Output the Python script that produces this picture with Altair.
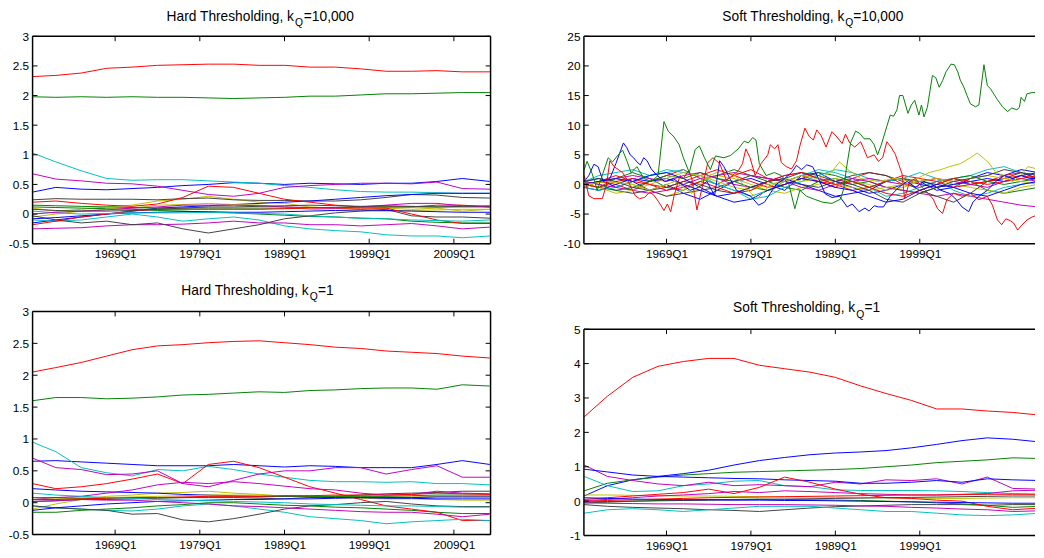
import altair as alt
import pandas as pd

BLUE = "#0000ff"; GREEN = "#008000"; RED = "#ff0000"; CYAN = "#00bfbf"
MAGENTA = "#bf00bf"; YELLOW = "#bfbf00"; GRAY = "#404040"
FONT = "Liberation Sans"

# ---------------- time grids (decimal years) ----------------
grid3 = [1959.25, 1962, 1965, 1968, 1971, 1974, 1977, 1980, 1983, 1986,
         1989, 1992, 1995, 1998, 2001, 2004, 2007, 2010, 2013.25]
grid2 = [1959.25, 1961, 1963, 1965, 1967, 1969, 1971, 1973, 1975, 1977,
         1979, 1981, 1983, 1985, 1987, 1989, 1991, 1993, 1995, 1997,
         1999, 2001, 2003, 2005, 2007, 2009, 2011, 2013]

# ---------------- Hard Thresholding, kQ = 10,000 ----------------
tl_red_top = [2.32, 2.34, 2.38, 2.46, 2.48, 2.51, 2.52, 2.53, 2.53, 2.51, 2.51, 2.48, 2.48, 2.45, 2.41, 2.41, 2.42, 2.40, 2.40]
tl_green_top = [1.98, 1.97, 1.98, 1.97, 1.98, 1.97, 1.97, 1.96, 1.95, 1.96, 1.97, 1.99, 1.99, 2.01, 2.03, 2.03, 2.04, 2.05, 2.05]
tl_cyan_top = [1.03, 0.88, 0.73, 0.60, 0.57, 0.58, 0.58, 0.56, 0.54, 0.52, 0.48, 0.45, 0.41, 0.38, 0.37, 0.37, 0.36, 0.35, 0.35]
tl_mag_top = [0.68, 0.59, 0.56, 0.52, 0.51, 0.47, 0.40, 0.33, 0.30, 0.35, 0.45, 0.48, 0.50, 0.52, 0.52, 0.51, 0.54, 0.43, 0.42]
tl_blue_top = [0.37, 0.45, 0.42, 0.41, 0.43, 0.45, 0.48, 0.50, 0.53, 0.52, 0.50, 0.52, 0.51, 0.50, 0.52, 0.52, 0.55, 0.60, 0.55]
tl_red_hump = [0.20, 0.22, 0.18, 0.15, 0.13, 0.17, 0.28, 0.47, 0.45, 0.35, 0.25, 0.20, 0.15, 0.12, 0.12, 0.12, 0.15, 0.15, 0.12]
tl_red_low = [-0.18, -0.12, -0.05, 0.00, 0.05, 0.08, 0.08, 0.08, 0.08, 0.08, 0.09, 0.10, 0.10, 0.10, 0.10, 0.00, -0.10, -0.16, -0.16]
tl_gray_up = [0.24, 0.26, 0.25, 0.25, 0.25, 0.24, 0.26, 0.27, 0.24, 0.23, 0.23, 0.22, 0.22, 0.24, 0.28, 0.33, 0.32, 0.28, 0.27]
tl_gray_low = [-0.03, -0.10, -0.15, -0.12, -0.18, -0.15, -0.25, -0.32, -0.25, -0.18, -0.08, -0.03, 0.02, 0.05, 0.08, -0.03, -0.05, -0.05, -0.07]
tl_yellow1 = [0.10, 0.05, 0.08, 0.12, 0.15, 0.22, 0.25, 0.30, 0.25, 0.20, 0.18, 0.12, 0.10, 0.08, 0.10, 0.08, 0.10, 0.05, 0.08]
tl_yellow2 = [-0.05, 0.00, 0.05, 0.08, 0.10, 0.15, 0.16, 0.18, 0.16, 0.15, 0.12, 0.08, 0.06, 0.05, 0.05, 0.06, 0.07, 0.08, 0.08]
tl_cyan_low = [-0.10, -0.12, -0.10, -0.05, 0.00, -0.05, -0.12, -0.08, -0.05, -0.10, -0.20, -0.25, -0.28, -0.30, -0.35, -0.37, -0.37, -0.40, -0.37]
tl_cyan_mid = [0.05, 0.02, 0.00, 0.01, 0.02, 0.02, 0.02, 0.03, 0.02, 0.01, 0.00, -0.03, -0.05, -0.07, -0.08, -0.10, -0.11, -0.12, -0.10]
tl_mag_low = [-0.25, -0.24, -0.23, -0.20, -0.18, -0.18, -0.17, -0.15, -0.12, -0.15, -0.15, -0.18, -0.18, -0.20, -0.18, -0.16, -0.20, -0.25, -0.22]
tl_mag_mid = [0.00, 0.03, 0.05, 0.07, 0.10, 0.12, 0.15, 0.15, 0.15, 0.14, 0.12, 0.11, 0.10, 0.12, 0.15, 0.18, 0.18, 0.14, 0.12]
tl_green_low = [0.12, 0.11, 0.10, 0.09, 0.08, 0.06, 0.05, 0.03, 0.02, 0.00, -0.02, -0.04, -0.05, -0.07, -0.08, -0.12, -0.14, -0.15, -0.15]
tl_green_mid = [0.15, 0.14, 0.13, 0.12, 0.11, 0.10, 0.10, 0.10, 0.10, 0.10, 0.10, 0.11, 0.11, 0.12, 0.12, 0.12, 0.12, 0.12, 0.12]
tl_blue_rise = [-0.15, -0.10, -0.05, 0.00, 0.05, 0.10, 0.12, 0.14, 0.16, 0.18, 0.20, 0.22, 0.25, 0.28, 0.31, 0.33, 0.35, 0.35, 0.35]
tl_blue_flat = [-0.08, -0.06, -0.03, 0.00, 0.02, 0.03, 0.04, 0.04, 0.03, 0.03, 0.04, 0.05, 0.06, 0.07, 0.06, 0.05, 0.04, 0.03, 0.03]
tl_gray_mid = [0.08, 0.06, 0.05, 0.05, 0.06, 0.08, 0.10, 0.12, 0.12, 0.13, 0.14, 0.15, 0.14, 0.13, 0.14, 0.13, 0.12, 0.13, 0.14]

# ---------------- Hard Thresholding, kQ = 1 ----------------
bl_red_top = [2.05, 2.12, 2.20, 2.30, 2.40, 2.46, 2.48, 2.51, 2.53, 2.54, 2.51, 2.48, 2.44, 2.42, 2.38, 2.36, 2.34, 2.30, 2.27]
bl_green_top = [1.60, 1.65, 1.65, 1.63, 1.64, 1.66, 1.69, 1.70, 1.72, 1.74, 1.73, 1.76, 1.77, 1.79, 1.80, 1.80, 1.78, 1.85, 1.83]
bl_cyan_top = [0.95, 0.80, 0.55, 0.47, 0.42, 0.52, 0.50, 0.57, 0.52, 0.45, 0.40, 0.35, 0.33, 0.33, 0.32, 0.33, 0.30, 0.30, 0.28]
bl_blue_top = [0.65, 0.66, 0.64, 0.62, 0.60, 0.58, 0.58, 0.58, 0.60, 0.58, 0.56, 0.58, 0.57, 0.55, 0.55, 0.55, 0.60, 0.66, 0.60]
bl_mag_a = [0.70, 0.55, 0.52, 0.44, 0.45, 0.50, 0.30, 0.25, 0.35, 0.45, 0.50, 0.50, 0.55, 0.55, 0.45, 0.52, 0.58, 0.40, 0.40]
bl_mag_b = [0.05, 0.08, 0.10, 0.15, 0.20, 0.28, 0.32, 0.30, 0.33, 0.30, 0.26, 0.22, 0.20, 0.15, 0.12, 0.13, 0.18, 0.15, 0.14]
bl_mag_c = [0.02, 0.03, 0.05, 0.04, 0.04, 0.02, 0.00, -0.02, -0.05, -0.06, -0.08, -0.10, -0.12, -0.14, -0.15, -0.15, -0.18, -0.22, -0.18]
bl_red_hump = [0.30, 0.22, 0.25, 0.30, 0.37, 0.45, 0.30, 0.60, 0.65, 0.55, 0.40, 0.25, 0.15, 0.05, -0.05, -0.10, -0.15, -0.28, -0.28]
bl_red_flat = [0.05, 0.05, 0.06, 0.07, 0.08, 0.08, 0.09, 0.10, 0.10, 0.10, 0.11, 0.11, 0.12, 0.12, 0.12, 0.13, 0.15, 0.14, 0.13]
bl_blue_mid = [0.22, 0.20, 0.18, 0.17, 0.16, 0.15, 0.13, 0.12, 0.11, 0.10, 0.10, 0.09, 0.08, 0.08, 0.07, 0.07, 0.06, 0.06, 0.06]
bl_cyan_mid = [0.15, 0.12, 0.10, 0.08, 0.07, 0.05, 0.04, 0.03, 0.02, 0.01, 0.00, -0.02, -0.03, -0.04, -0.05, -0.05, -0.06, -0.07, -0.07]
bl_cyan_low = [-0.05, -0.08, -0.10, -0.12, -0.13, -0.10, -0.05, -0.02, -0.05, -0.10, -0.15, -0.22, -0.25, -0.28, -0.33, -0.30, -0.28, -0.26, -0.28]
bl_gray_low = [-0.05, -0.08, -0.10, -0.12, -0.18, -0.17, -0.27, -0.30, -0.25, -0.18, -0.10, -0.05, -0.03, 0.00, 0.02, -0.02, -0.05, -0.06, -0.06]
bl_gray_up = [0.02, 0.03, 0.05, 0.05, 0.06, 0.07, 0.08, 0.08, 0.08, 0.07, 0.06, 0.08, 0.10, 0.12, 0.14, 0.15, 0.16, 0.18, 0.18]
bl_yellow1 = [-0.10, -0.02, 0.05, 0.10, 0.12, 0.15, 0.16, 0.18, 0.15, 0.13, 0.10, 0.10, 0.08, 0.07, 0.06, 0.06, 0.05, 0.04, 0.04]
bl_yellow2 = [0.05, 0.06, 0.07, 0.08, 0.09, 0.10, 0.11, 0.12, 0.12, 0.12, 0.11, 0.10, 0.10, 0.09, 0.09, 0.09, 0.10, 0.10, 0.10]
bl_green_low = [-0.15, -0.15, -0.12, -0.10, -0.08, -0.05, -0.03, 0.00, 0.00, -0.02, -0.04, -0.05, -0.07, -0.08, -0.10, -0.12, -0.15, -0.17, -0.17]
bl_green_mid = [0.08, 0.08, 0.07, 0.07, 0.08, 0.08, 0.08, 0.09, 0.09, 0.09, 0.10, 0.10, 0.10, 0.10, 0.10, 0.11, 0.12, 0.12, 0.12]
bl_blue_low = [-0.12, -0.08, -0.05, -0.02, 0.00, 0.02, 0.03, 0.04, 0.05, 0.05, 0.06, 0.06, 0.07, 0.08, 0.08, 0.08, 0.09, 0.09, 0.09]

# ---------------- Soft Thresholding, kQ = 10,000 ----------------
tr_green_years = [1959.25, 1959.6, 1960.2, 1960.8, 1961.5, 1962.1, 1962.6, 1963.3, 1963.8, 1964.3, 1964.8, 1965.5, 1966.3, 1967.2, 1968.0,
                  1968.7, 1969.2, 1969.9, 1970.5, 1971.0, 1971.7, 1972.4, 1972.9, 1973.5, 1974.2, 1974.8, 1975.8, 1976.6, 1977.5, 1978.2,
                  1978.7, 1979.2, 1979.6, 1980.0, 1980.8, 1981.8, 1982.6, 1983.5, 1984.2, 1984.8, 1985.6, 1986.5, 1987.5, 1988.6, 1989.6,
                  1990.0, 1990.3, 1990.8, 1991.4, 1991.9, 1992.4, 1993.1, 1993.6, 1994.0, 1994.4, 1995.1, 1995.5, 1995.9, 1996.3, 1996.6,
                  1997.0, 1997.6, 1998.0, 1998.4, 1998.9, 1999.2, 1999.5, 1999.9, 2000.5, 2000.9, 2001.3, 2001.7, 2002.1, 2002.7, 2003.1,
                  2003.5, 2003.8, 2004.2, 2004.6, 2005.0, 2005.6, 2006.0, 2006.6, 2007.0, 2007.4, 2007.8, 2008.2, 2008.8, 2009.4, 2009.9,
                  2010.5, 2010.8, 2011.0, 2011.4, 2011.7, 2012.3, 2013.25]
tr_green_vals = [2.5, 3.9, 1.8, -1.0, 2.0, 4.5, 3.8, 5.0, 5.8, 4.0, 2.0, 3.0, 1.0, 0.5, 1.5,
                 10.6, 9.0, 8.0, 6.7, 4.5, 2.0, 5.9, 6.5, 4.5, 2.5, 4.8, 4.5, 4.9, 6.0, 7.3,
                 7.0, 7.9, 7.5, 3.5, 1.5, 2.0, 1.5, 0.0, -4.1, -1.0, -2.0, -2.5, -3.0, -3.2, -2.5,
                 -0.7, 2.6, 7.0, 9.0, 8.6, 7.7, 7.7, 6.7, 5.0, 6.5, 9.8, 11.7, 11.5, 12.6, 15.0,
                 15.0, 12.0, 13.4, 14.2, 11.7, 13.4, 11.4, 13.0, 18.4, 18.0, 16.4, 17.5, 19.0, 20.3, 20.2,
                 19.0, 17.6, 16.5, 15.0, 13.6, 13.1, 13.4, 20.2, 16.7, 16.1, 15.2, 14.3, 13.1, 12.3, 12.9,
                 12.6, 13.0, 14.7, 14.0, 15.3, 15.5, 15.5]
tr_red_years = [1959.25, 1959.8, 1960.4, 1961.4, 1961.9, 1962.3, 1962.8, 1963.8, 1964.5, 1965.3, 1965.8, 1966.4, 1967.0, 1967.5, 1968.1,
                1968.7, 1969.1, 1969.5, 1969.9, 1970.6, 1971.0, 1971.6, 1972.0, 1972.6, 1973.0, 1973.9, 1974.5, 1975.3, 1976.1, 1976.8,
                1977.5, 1978.0, 1978.4, 1978.9, 1979.5, 1980.2, 1981.0, 1981.3, 1981.8, 1982.2, 1982.6, 1983.2, 1983.8, 1984.4, 1984.8,
                1985.4, 1985.9, 1986.4, 1986.8, 1987.3, 1987.9, 1988.6, 1989.2, 1989.8, 1990.2, 1990.7, 1991.3, 1992.0, 1992.4, 1992.8,
                1993.6, 1994.1, 1994.6, 1995.1, 1995.6, 1996.1, 1996.5, 1996.9, 1997.2, 1997.8, 1998.5, 1999.3, 2000.0, 2000.6, 2001.1,
                2001.7, 2002.2, 2003.0, 2004.0, 2005.0, 2006.0, 2007.0, 2007.6, 2008.2, 2008.7, 2009.2, 2009.7, 2010.1, 2010.6, 2011.0,
                2011.7, 2012.3, 2013.25]
tr_red_vals = [1.5, -1.9, -2.4, -2.4, 0.0, 4.0, 3.0, 2.0, 0.4, -1.9, -2.4, -2.2, -1.3, -1.8, -3.0,
               -4.4, -3.3, -4.6, -1.9, 1.5, 1.0, 2.3, 1.0, -4.3, -1.9, 3.7, 4.5, 3.5, 0.7, 1.5,
               2.3, 3.5, 6.0, 4.5, 1.5, 3.5, 5.0, 6.7, 6.0, 6.7, 3.7, 3.0, 2.6, 4.0, 6.5,
               9.5, 8.1, 7.5, 9.2, 8.3, 6.3, 8.9, 8.0, 6.9, 8.5, 7.0, 6.3, 7.2, 5.9, 4.5,
               5.0, 3.9, 4.5, 7.2, 6.3, 5.1, 3.4, 1.8, -2.4, 0.5, 1.0, -0.5, -1.5, -2.5, -4.1,
               -4.9, -2.6, -1.5, -2.0, -1.5, -2.6, -2.0, -3.5, -6.0, -6.8, -5.8, -6.1, -6.5, -7.7, -7.0,
               -6.0, -5.5, -5.0]
tr_blue_years = [1959.25, 1959.8, 1960.4, 1960.9, 1961.5, 1962.3, 1963.0, 1963.9, 1964.3, 1964.7, 1965.1, 1965.5, 1965.9, 1966.3, 1966.7,
                 1967.2, 1967.9, 1968.8, 1969.8, 1970.8, 1971.8, 1972.8, 1973.8, 1974.7, 1975.3, 1975.8, 1976.5, 1977.3, 1978.2, 1979.0,
                 1979.9, 1980.6, 1981.3, 1982.0, 1983.0, 1983.8, 1984.4, 1985.0, 1985.6, 1986.3, 1987.0, 1987.8, 1988.6, 1989.5, 1990.4,
                 1991.0, 1991.8, 1992.5, 1993.0, 1993.6, 1994.1, 1994.7, 1995.5, 1996.5, 1997.5, 1998.5, 1999.5, 2000.5, 2001.5, 2002.5,
                 2003.3, 2004.0, 2004.8, 2005.3, 2006.0, 2007.0, 2008.0, 2009.0, 2010.0, 2011.0, 2012.0, 2013.25]
tr_blue_vals = [0.5, 1.5, 3.4, 3.0, 0.5, 1.0, 3.5, 7.0, 6.2, 5.0, 4.5, 3.8, 3.3, 4.5, 4.0,
                2.6, 1.5, 0.5, 1.0, 0.0, -1.0, -0.5, 0.5, -1.9, 4.0, 3.0, 1.0, -1.0, -1.5, -2.0,
                -3.5, -3.0, -1.5, 0.0, 1.0, 2.0, 3.2, 2.5, 3.3, 3.0, 1.0, -1.6, -2.2, -2.0, -3.8,
                -3.3, -4.6, -4.0, -4.5, -3.6, -3.8, -3.8, -2.0, -0.5, 0.5, -0.5, 0.5, 0.0, -1.0, -1.5,
                -2.5, -3.8, -4.6, -3.0, -2.0, -1.0, 0.5, 1.5, 1.0, 1.5, 1.0, 1.0]
tr_yellow_years = [1959.25, 1962, 1965, 1967, 1970, 1972, 1974, 1976, 1977.5, 1979, 1979.8, 1981, 1983, 1985, 1987,
                   1988.5, 1989.5, 1990.5, 1992, 1994, 1996, 1998, 2000.1, 2001.5, 2002.5, 2003.8, 2005, 2005.8, 2006.5, 2007.2,
                   2008, 2009, 2010, 2011, 2011.8, 2013.25]
tr_yellow_vals = [0.0, 0.5, 0.0, -1.0, 0.5, -1.5, 1.5, 2.5, 1.0, -1.5, -2.4, -0.5, 1.0, 0.5, 1.0,
                  2.0, 3.8, 2.5, 1.0, 0.5, 1.0, 0.5, 2.0, 2.5, 3.0, 3.5, 4.5, 5.3, 4.5, 3.6,
                  2.0, 1.5, 0.5, 1.5, 3.0, 2.5]
tr_bg1 = [0.5, 1.0, -0.5, 0.5, -1.0, 0.0, -1.5, -2.5, -1.0, 0.5, 1.0, 0.0, -1.0, 1.5, 2.0, 0.5, -0.5, -1.5, -1.0, 0.0, 0.5, -1.0, -0.5, 1.0, 2.0, 1.5, 2.5, 2.0]
tr_bg2 = [0.0, -0.5, 1.0, 2.0, 1.0, -0.5, -1.0, 0.5, 1.5, 2.5, 1.5, 0.5, -0.5, -1.0, 0.5, 1.0, 0.0, 0.5, -0.5, -1.0, -1.5, -0.5, 0.0, 0.5, -1.0, -1.5, -1.0, -0.5]
tr_bg3 = [-0.5, 0.5, 0.0, -1.0, 0.5, 1.5, 2.5, 1.0, 0.0, 1.5, 2.5, 1.0, 0.5, 1.5, 0.5, -0.5, 1.0, 2.0, 1.5, 0.0, -0.5, 0.5, 1.0, 0.0, 0.5, 1.5, 2.0, 1.0]
tr_bg4 = [0.5, 1.5, 2.0, 2.5, 1.5, 2.0, 2.5, 1.0, 0.0, -1.0, -2.0, -1.0, 0.5, 1.5, 2.5, 2.0, 1.0, -0.5, -2.0, -1.5, -0.5, 0.5, 1.0, 1.5, 2.5, 3.0, 2.0, 1.5]
tr_bg5 = [0.0, 0.5, 1.0, 1.5, 1.0, 0.5, 1.5, 2.0, 1.0, 0.0, -0.5, 0.5, 1.5, 2.0, 1.0, 0.5, 1.0, 0.5, -0.5, -1.0, -1.5, -2.0, -1.5, -2.0, -2.5, -3.0, -3.5, -3.8]
tr_bg6 = [-0.5, 0.5, 1.0, 0.0, -1.0, -2.0, -1.0, 0.5, 1.5, 1.0, 0.0, -1.0, -1.5, -0.5, 0.0, 1.0, 0.5, 0.0, -1.0, -0.5, 0.5, 1.0, 0.0, -0.5, -1.0, -1.5, -0.5, 0.0]
tr_bg7 = [0.0, -0.5, -1.0, -1.5, -1.0, -2.0, -1.5, -1.0, -0.5, 0.5, 1.5, 1.0, 0.5, 0.0, -0.5, 0.5, 1.5, 2.0, 1.5, 0.5, -1.0, -2.0, -3.0, -1.5, 0.5, 1.0, 2.0, 1.5]
tr_bg8 = [-0.5, -1.0, 0.0, 1.0, 0.5, 1.0, 0.0, -1.0, -2.0, -1.5, -0.5, 0.5, 1.0, 0.0, -1.0, -2.0, -1.5, -1.0, 0.5, 1.0, 0.0, -0.5, 0.0, 0.5, 1.0, 0.5, 1.5, 2.0]
tr_bg9 = [0.5, 0.0, -1.0, -0.5, 0.5, 1.5, 1.0, 2.0, 1.0, 0.5, -0.5, -1.0, 0.0, 1.0, 2.0, 1.5, 0.5, -0.5, 0.5, 1.0, 0.5, 0.0, 1.0, 1.5, 0.5, 0.0, 0.5, 1.0]
tr_bg10 = [0.0, 0.5, 1.5, 0.5, 0.0, -0.5, 0.5, 1.5, 2.5, 1.5, 0.5, -0.5, 0.0, 1.0, 0.5, 0.0, -1.0, -0.5, 0.5, 1.5, 1.0, 0.5, -0.5, 0.0, 0.5, 1.0, 1.5, 1.0]
tr_bg11 = [-0.5, -1.0, -0.5, 0.5, 1.5, 2.5, 2.0, 1.5, 0.0, -1.0, -2.5, -2.0, -0.5, 0.5, 1.5, 2.5, 2.0, 1.0, 0.5, 1.0, 2.0, 1.0, -1.0, -2.0, -1.5, -0.5, 0.0, 0.5]
tr_bg12 = [0.5, 0.0, -0.5, -1.0, -1.5, -1.0, 0.0, 1.0, 1.5, 2.0, 1.5, 1.0, 0.5, -0.5, -1.0, 0.0, 0.5, 1.0, 0.5, 0.0, 0.5, 1.0, 0.5, 0.0, -0.5, 0.5, 1.0, 0.5]
tr_bg13 = [0.0, -0.5, -1.5, -1.0, 0.0, 1.0, 2.0, 1.5, 0.5, -0.5, -1.0, 0.0, 0.5, 1.5, 1.0, 0.0, -0.5, -1.0, -0.5, 0.0, 0.5, 1.0, 0.5, 1.0, 1.5, 1.0, 0.5, 0.0]
tr_bg14 = [0.5, 1.0, 0.5, -0.5, -1.0, -0.5, 0.5, 0.0, -1.0, -1.5, -0.5, 0.5, 1.0, 2.0, 1.5, 0.5, 0.0, -1.0, -2.5, -3.0, -1.5, -0.5, 0.5, 1.0, 1.5, 2.5, 2.0, 1.0]
tr_bg15 = [0.0, -0.5, 0.5, 1.0, 0.0, -1.0, -0.5, 0.5, -0.5, -1.5, -1.0, 0.5, 1.5, 2.0, 1.0, 0.0, 0.5, -0.5, -1.5, -2.0, -1.0, 0.0, 1.0, 0.5, 0.0, 0.5, 1.0, 1.5]
tr_bg16 = [0.0, 0.5, 1.0, 0.5, 1.5, 2.0, 1.0, -0.5, -2.0, -3.0, -2.5, -1.0, 0.0, 1.0, 0.5, -0.5, -1.0, -2.0, -3.0, -2.5, -1.0, 0.0, -0.5, -1.5, -2.0, -1.0, 0.0, 0.5]

# ---------------- Soft Thresholding, kQ = 1 ----------------
br_red_top = [2.45, 3.05, 3.60, 3.92, 4.06, 4.15, 4.15, 3.95, 3.85, 3.75, 3.60, 3.35, 3.13, 2.93, 2.68, 2.68, 2.62, 2.58, 2.50]
br_blue_rise = [0.15, 0.45, 0.62, 0.72, 0.80, 0.90, 1.05, 1.18, 1.27, 1.35, 1.40, 1.43, 1.47, 1.55, 1.65, 1.76, 1.84, 1.80, 1.72]
br_green_rise = [0.30, 0.52, 0.62, 0.70, 0.76, 0.80, 0.84, 0.86, 0.88, 0.90, 0.92, 0.95, 1.00, 1.05, 1.12, 1.16, 1.20, 1.26, 1.24]
br_blue_top = [0.93, 0.85, 0.76, 0.72, 0.70, 0.68, 0.66, 0.65, 0.62, 0.60, 0.58, 0.52, 0.52, 0.55, 0.60, 0.55, 0.65, 0.62, 0.60]
br_cyan_top = [0.72, 0.45, 0.28, 0.30, 0.45, 0.50, 0.58, 0.60, 0.45, 0.42, 0.33, 0.31, 0.31, 0.31, 0.30, 0.28, 0.25, 0.22, 0.20]
br_mag_top = [1.05, 0.72, 0.60, 0.50, 0.45, 0.55, 0.45, 0.48, 0.45, 0.42, 0.55, 0.50, 0.62, 0.60, 0.65, 0.50, 0.70, 0.37, 0.35]
br_mag_mid = [0.02, 0.05, 0.10, 0.15, 0.18, 0.22, 0.28, 0.25, 0.30, 0.28, 0.25, 0.22, 0.20, 0.18, 0.18, 0.20, 0.22, 0.30, 0.32]
br_red_hump = [0.05, 0.10, 0.15, 0.20, 0.25, 0.35, 0.22, 0.40, 0.70, 0.55, 0.35, 0.20, 0.10, 0.08, 0.03, 0.00, -0.15, -0.25, -0.20]
br_red_flat = [0.00, 0.02, 0.04, 0.06, 0.08, 0.10, 0.11, 0.12, 0.13, 0.14, 0.15, 0.16, 0.17, 0.18, 0.18, 0.19, 0.20, 0.20, 0.20]
br_yellow = [0.18, 0.18, 0.17, 0.16, 0.15, 0.15, 0.14, 0.13, 0.12, 0.12, 0.11, 0.10, 0.10, 0.09, 0.08, 0.08, 0.09, 0.10, 0.10]
br_gray_low = [-0.10, -0.15, -0.18, -0.20, -0.22, -0.25, -0.27, -0.30, -0.25, -0.20, -0.16, -0.14, -0.12, -0.10, -0.10, -0.10, -0.12, -0.10, -0.10]
br_cyan_low = [-0.35, -0.25, -0.22, -0.25, -0.30, -0.25, -0.20, -0.15, -0.15, -0.15, -0.20, -0.25, -0.30, -0.30, -0.35, -0.40, -0.42, -0.40, -0.35]
br_mag_low = [-0.05, -0.06, -0.07, -0.08, -0.08, -0.09, -0.10, -0.10, -0.10, -0.11, -0.12, -0.14, -0.15, -0.18, -0.20, -0.23, -0.25, -0.30, -0.28]
br_green_low = [-0.05, -0.03, 0.00, 0.02, 0.03, 0.04, 0.05, 0.06, 0.05, 0.04, 0.03, 0.02, 0.00, -0.02, -0.05, -0.08, -0.12, -0.18, -0.15]
br_blue_low = [0.10, 0.08, 0.06, 0.05, 0.04, 0.04, 0.03, 0.03, 0.02, 0.02, 0.01, 0.00, -0.01, -0.02, -0.03, -0.04, -0.05, -0.06, -0.06]
br_gray_mid = [-0.02, -0.01, 0.00, 0.01, 0.02, 0.03, 0.04, 0.05, 0.06, 0.07, 0.08, 0.09, 0.10, 0.11, 0.12, 0.13, 0.14, 0.15, 0.15]

# ---------------- axis ticks ----------------
left_xticks = [1969, 1979, 1989, 1999, 2009]
right_xticks = [1969, 1979, 1989, 1999]
hard_yticks = [-0.5, 0, 0.5, 1, 1.5, 2, 2.5, 3]
soft10k_yticks = [-10, -5, 0, 5, 10, 15, 20, 25]
soft1_yticks = [-1, 0, 1, 2, 3, 4, 5]


def rows(series, dates):
    out = []
    for name, color, vals in series:
        for d, v in zip(dates, vals):
            out.append({"series": name, "year": d, "value": v, "color": color})
    return out


tl_list = [("a", BLUE, tl_blue_top), ("b", GREEN, tl_green_top), ("c", RED, tl_red_top), ("d", CYAN, tl_cyan_top),
           ("e", MAGENTA, tl_mag_top), ("f", YELLOW, tl_yellow1), ("g", GRAY, tl_gray_up), ("h", BLUE, tl_blue_rise),
           ("i", GREEN, tl_green_low), ("j", RED, tl_red_hump), ("k", CYAN, tl_cyan_low), ("l", MAGENTA, tl_mag_low),
           ("m", YELLOW, tl_yellow2), ("n", GRAY, tl_gray_low), ("o", BLUE, tl_blue_flat), ("p", GREEN, tl_green_mid),
           ("q", RED, tl_red_low), ("r", CYAN, tl_cyan_mid), ("s", MAGENTA, tl_mag_mid), ("t", GRAY, tl_gray_mid)]
bl_list = [("a", BLUE, bl_blue_top), ("b", GREEN, bl_green_top), ("c", RED, bl_red_top), ("d", CYAN, bl_cyan_top),
           ("e", MAGENTA, bl_mag_a), ("f", YELLOW, bl_yellow1), ("g", GRAY, bl_gray_up), ("h", BLUE, bl_blue_mid),
           ("i", GREEN, bl_green_low), ("j", RED, bl_red_hump), ("k", CYAN, bl_cyan_low), ("l", MAGENTA, bl_mag_b),
           ("m", YELLOW, bl_yellow2), ("n", GRAY, bl_gray_low), ("o", BLUE, bl_blue_low), ("p", GREEN, bl_green_mid),
           ("q", RED, bl_red_flat), ("r", CYAN, bl_cyan_mid), ("s", MAGENTA, bl_mag_c)]
tr_bg_list = [("b1", BLUE, tr_bg1), ("b2", GREEN, tr_bg2), ("b3", RED, tr_bg3), ("b4", CYAN, tr_bg4),
              ("b5", MAGENTA, tr_bg5), ("b6", YELLOW, tr_bg6), ("b7", GRAY, tr_bg7), ("b8", BLUE, tr_bg8),
              ("b9", GREEN, tr_bg9), ("b10", RED, tr_bg10), ("b11", CYAN, tr_bg11), ("b12", MAGENTA, tr_bg12),
              ("b13", YELLOW, tr_bg13), ("b14", GRAY, tr_bg14), ("b15", RED, tr_bg15), ("b16", BLUE, tr_bg16)]
br_list = [("a", BLUE, br_blue_rise), ("b", GREEN, br_green_rise), ("c", RED, br_red_top), ("d", CYAN, br_cyan_top),
           ("e", MAGENTA, br_mag_top), ("f", YELLOW, br_yellow), ("g", GRAY, br_gray_low), ("h", BLUE, br_blue_top),
           ("i", GREEN, br_green_low), ("j", RED, br_red_hump), ("k", CYAN, br_cyan_low), ("l", MAGENTA, br_mag_mid),
           ("n", GRAY, br_gray_mid), ("o", BLUE, br_blue_low), ("q", RED, br_red_flat), ("s", MAGENTA, br_mag_low)]

df_tl = pd.DataFrame(rows(tl_list, grid3))
df_bl = pd.DataFrame(rows(bl_list, grid3))
df_br = pd.DataFrame(rows(br_list, grid3))
df_tr = pd.DataFrame(
    rows(tr_bg_list, grid2)
    + rows([("yl", YELLOW, tr_yellow_vals)], tr_yellow_years)
    + rows([("bl", BLUE, tr_blue_vals)], tr_blue_years)
    + rows([("rd", RED, tr_red_vals)], tr_red_years)
    + rows([("gr", GREEN, tr_green_vals)], tr_green_years)
)

ONE = pd.DataFrame({"k": [0]})


def panel(df, W, H, xdom, xticks, ydom, yticks, title, right_frame):
    xs = alt.Scale(domain=xdom, nice=False, zero=False)
    ys = alt.Scale(domain=ydom, nice=False, zero=False)
    ax_common = dict(ticks=False, tickSize=0, domain=False, grid=False, title=None,
                     labelOverlap=False, labelFlush=False, labelFont=FONT,
                     labelFontSize=12, labelColor="#000000")
    xaxis = alt.Axis(values=xticks, labelExpr="'' + datum.value + 'Q1'", labelPadding=5, **ax_common)
    yaxis = alt.Axis(values=yticks, labelExpr="'' + datum.value", labelPadding=4, **ax_common)
    X = alt.X("year:Q", scale=xs, axis=xaxis)
    Y = alt.Y("value:Q", scale=ys, axis=yaxis)
    lines = alt.Chart(df).mark_line(strokeWidth=1, clip=True).encode(
        x=X, y=Y,
        color=alt.Color("color:N", scale=None),
        detail="series:N",
    )
    xt = alt.Chart(pd.DataFrame({"year": xticks}))
    yt = alt.Chart(pd.DataFrame({"value": yticks}))
    tk = dict(color="black", strokeWidth=1)
    layers = [
        lines,
        xt.mark_rule(**tk).encode(x=X, y=alt.value(H), y2=alt.value(H - 5)),
        xt.mark_rule(**tk).encode(x=X, y=alt.value(0), y2=alt.value(5)),
        yt.mark_rule(**tk).encode(y=Y, x=alt.value(0), x2=alt.value(5)),
    ]
    fr = dict(color="black", strokeWidth=1.5)
    frame = alt.Chart(ONE)
    layers += [
        frame.mark_rule(**fr).encode(x=alt.value(0), y=alt.value(0), y2=alt.value(H)),
        frame.mark_rule(**fr).encode(x=alt.value(0), x2=alt.value(W), y=alt.value(0)),
        frame.mark_rule(**fr).encode(x=alt.value(0), x2=alt.value(W), y=alt.value(H)),
    ]
    if right_frame:
        layers += [
            yt.mark_rule(**tk).encode(y=Y, x=alt.value(W - 5), x2=alt.value(W)),
            frame.mark_rule(**fr).encode(x=alt.value(W), y=alt.value(0), y2=alt.value(H)),
        ]
    main, sub, tail, xk, xq, xt_, ym, yq = title
    layers += [
        frame.mark_text(font=FONT, fontSize=14, align="right", baseline="middle", color="black").encode(
            x=alt.value(xk), y=alt.value(ym), text=alt.value(main)),
        frame.mark_text(font=FONT, fontSize=10.5, align="left", baseline="middle", color="black").encode(
            x=alt.value(xq), y=alt.value(yq), text=alt.value(sub)),
        frame.mark_text(font=FONT, fontSize=14, align="left", baseline="middle", color="black").encode(
            x=alt.value(xt_), y=alt.value(ym), text=alt.value(tail)),
    ]
    return alt.layer(*layers).properties(width=W, height=H)


LW, RW = 466, 459
left_xdom = [1959.25, 2013.33]
right_xdom = [1959.22, 2012.65]

tl = panel(df_tl, LW, 211, left_xdom, left_xticks, [-0.5, 3], hard_yticks,
           ("Hard Thresholding, k", "Q", "=10,000", 266, 267, 276, -20, -13.5), True)
bl = panel(df_bl, LW, 227, left_xdom, left_xticks, [-0.5, 3], hard_yticks,
           ("Hard Thresholding, k", "Q", "=1", 281, 282, 290.5, -21, -14.3), True)
tr = panel(df_tr, RW, 211, right_xdom, right_xticks, [-10, 25], soft10k_yticks,
           ("Soft Thresholding, k", "Q", "=10,000", 265, 266, 274, -20, -13.5), False)
br = panel(df_br, RW, 210, right_xdom, right_xticks, [-1, 5], soft1_yticks,
           ("Soft Thresholding, k", "Q", "=1", 276, 277, 285.5, -21.5, -14.4), False)

left_col = alt.vconcat(tl, bl, spacing=25)
right_col = alt.vconcat(tr, br, spacing=42)
chart = alt.hconcat(left_col, right_col, spacing=72).properties(
    padding={"top": -3, "left": 0, "right": 0, "bottom": 0}
).configure_view(strokeWidth=0)

chart.save("out.html", embed_options={"renderer": "svg", "actions": False})
